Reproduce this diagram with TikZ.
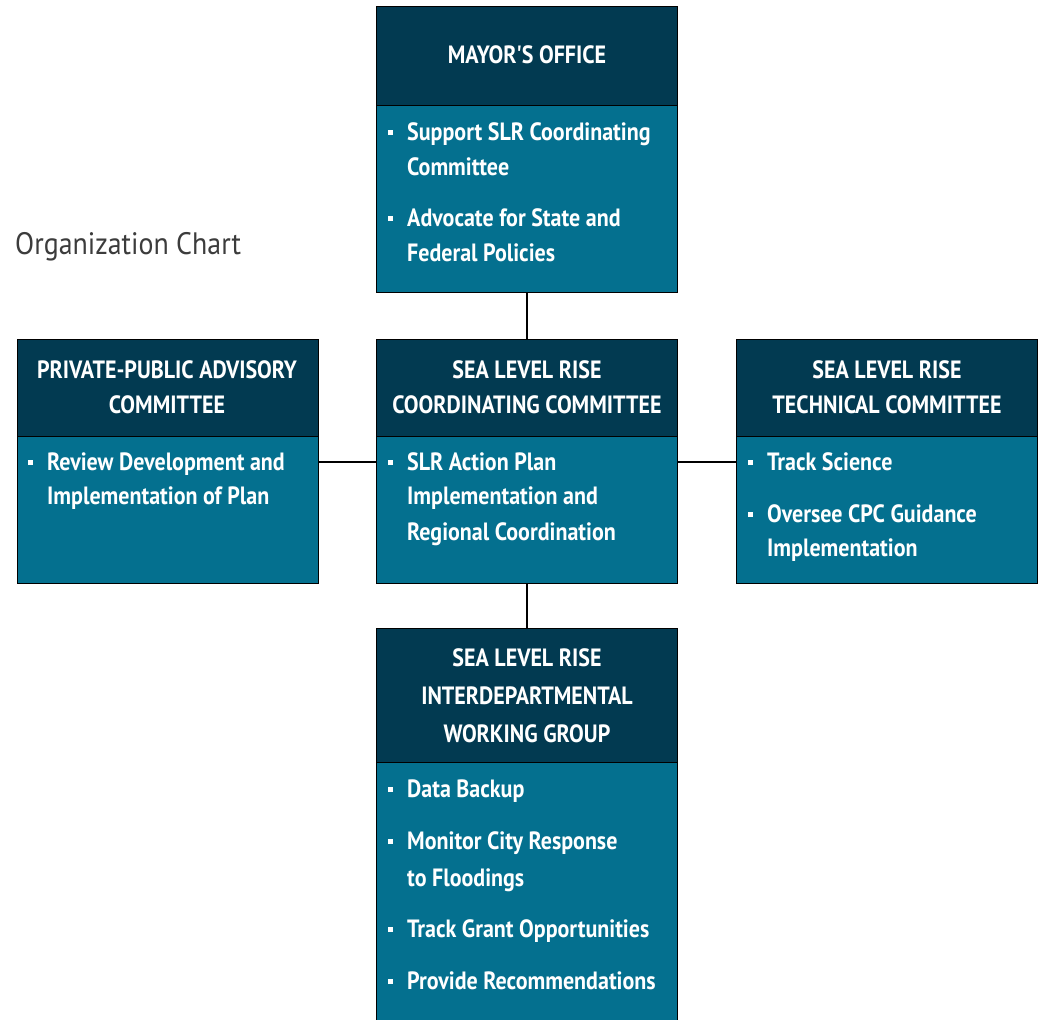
\documentclass[tikz,border=0pt]{standalone}
\usepackage{fontspec}
\newfontfamily\cfont[FakeStretch=0.88]{PT Sans}
\newfontfamily\tfont[FakeStretch=0.90]{PT Sans}
\definecolor{hdr}{HTML}{023A51}
\definecolor{bdy}{HTML}{04708F}
\definecolor{ttl}{HTML}{3C3C3C}
\newcommand\bul{\makebox[19pt][l]{\raisebox{5pt}{\rule{5pt}{5pt}}}}
\tikzset{
  hbox/.style={draw=black,line width=1.3pt,fill=hdr,anchor=north west,inner sep=0pt,minimum width=301pt},
  bbox/.style={draw=black,line width=1.3pt,fill=bdy,anchor=north west,inner sep=0pt,minimum width=301pt},
  txt/.style={font=\cfont\bfseries\fontsize{25}{28}\selectfont,text=white,inner sep=0pt,anchor=mid west,yshift=-5pt},
  htxt/.style={txt,anchor=mid},
  conn/.style={draw=black,line width=1.4pt}
}
\begin{document}
\begin{tikzpicture}[x=1pt,y=-1pt]
\useasboundingbox (0,0) rectangle (1042,1020);
\fill[white] (0,0) rectangle (1042,1020);
% title
\node[font=\tfont\fontsize{31}{34}\selectfont,text=ttl,inner sep=0pt,anchor=mid west,yshift=-6pt] (title) at (15,246) {Organization Chart};
% boxes
\node[hbox,minimum height=99pt] (mayH) at (376,6) {};
\node[bbox,minimum height=187pt] (mayB) at (376,105) {};
\node[hbox,minimum height=97pt] (lefH) at (17,339) {};
\node[bbox,minimum height=147pt] (lefB) at (17,436) {};
\node[hbox,minimum height=97pt] (cenH) at (376,339) {};
\node[bbox,minimum height=147pt] (cenB) at (376,436) {};
\node[hbox,minimum height=97pt] (rigH) at (736,339) {};
\node[bbox,minimum height=147pt] (rigB) at (736,436) {};
\node[hbox,minimum height=134pt] (botH) at (376,628) {};
\node[bbox,minimum height=262pt] (botB) at (376,762) {};
% connectors
\draw[conn] (mayB.south) -- (cenH.north);
\draw[conn] (cenB.south) -- (botH.north);
\draw[conn] ([yshift=-26pt]lefB.north east) -- ([yshift=-26pt]cenB.north west);
\draw[conn] ([yshift=-26pt]cenB.north east) -- ([yshift=-26pt]rigB.north west);
% headers
\node[htxt] (h1) at (527,56) {MAYOR'S OFFICE};
\node[htxt] (h2) at (167,371) {PRIVATE-PUBLIC ADVISORY};
\node[htxt] (h3) at (167,406) {COMMITTEE};
\node[htxt] (h4) at (527,371) {SEA LEVEL RISE};
\node[htxt] (h5) at (527,406) {COORDINATING COMMITTEE};
\node[htxt] (h6) at (887,371) {SEA LEVEL RISE};
\node[htxt] (h7) at (887,406) {TECHNICAL COMMITTEE};
\node[htxt] (h8) at (527,659) {SEA LEVEL RISE};
\node[htxt] (h9) at (527,697) {INTERDEPARTMENTAL};
\node[htxt] (h10) at (527,735) {WORKING GROUP};
% mayor body
\node[txt] (m1) at (388,133) {\bul Support SLR Coordinating};
\node[txt] (m2) at (407,168) {Committee};
\node[txt] (m3) at (388,219) {\bul Advocate for State and};
\node[txt] (m4) at (407,254) {Federal Policies};
% left body
\node[txt] (l1) at (28,463) {\bul Review Development and};
\node[txt] (l2) at (47,497) {Implementation of Plan};
% center body
\node[txt] (c1) at (388,463) {\bul SLR Action Plan};
\node[txt] (c2) at (407,497) {Implementation and};
\node[txt] (c3) at (407,533) {Regional Coordination};
% right body
\node[txt] (r1) at (748,463) {\bul Track Science};
\node[txt] (r2) at (748,515) {\bul Oversee CPC Guidance};
\node[txt] (r3) at (767,549) {Implementation};
% bottom body
\node[txt] (b1) at (388,790) {\bul Data Backup};
\node[txt] (b2) at (388,842) {\bul Monitor City Response};
\node[txt] (b3) at (407,879) {to Floodings};
\node[txt] (b4) at (388,930) {\bul Track Grant Opportunities};
\node[txt] (b5) at (388,982) {\bul Provide Recommendations};
\end{tikzpicture}
\end{document}
